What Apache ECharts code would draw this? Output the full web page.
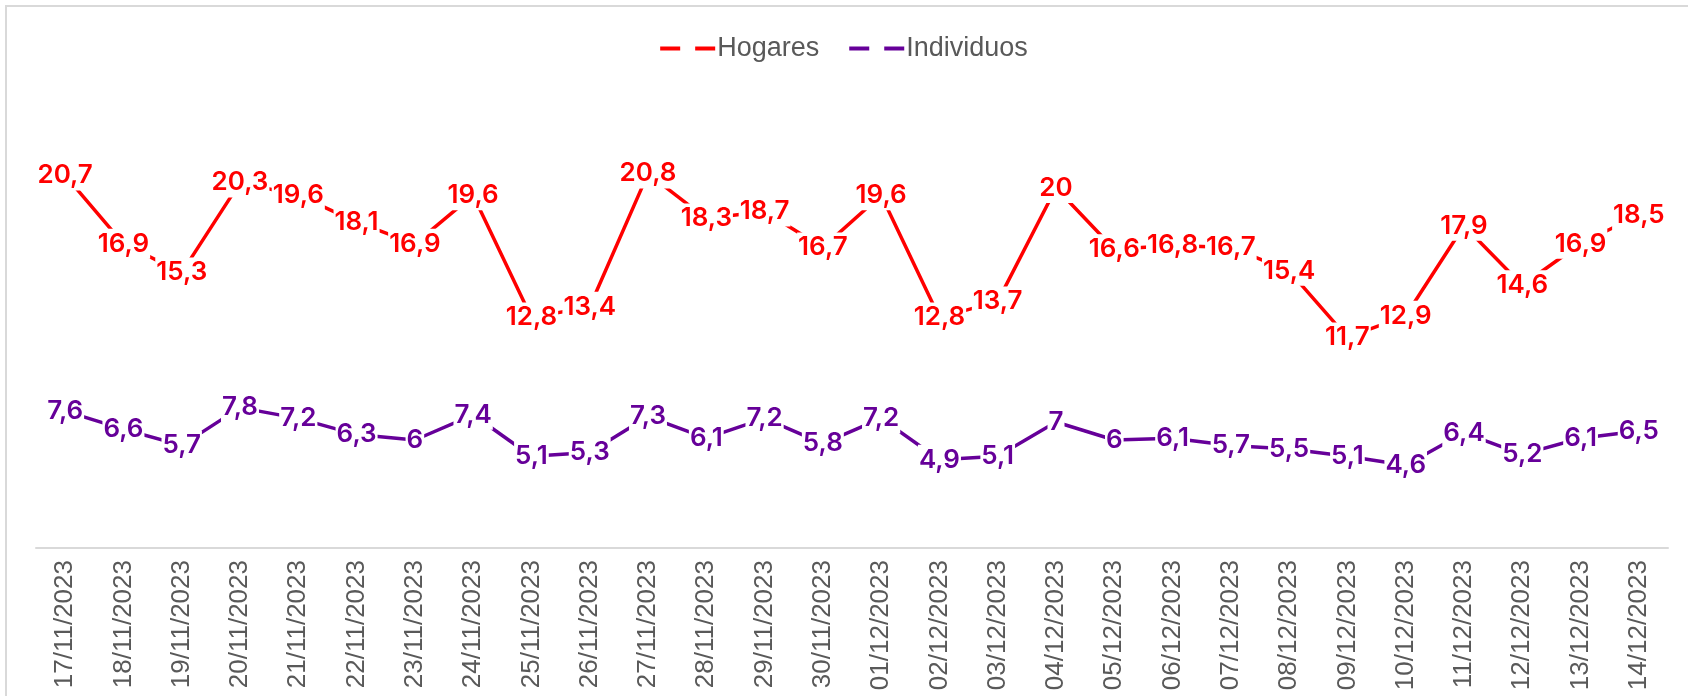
<!DOCTYPE html>
<html>
<head>
<meta charset="utf-8">
<script src="https://cdn.jsdelivr.net/npm/echarts@6/dist/echarts.min.js"></script>
<style>
  html, body { margin: 0; padding: 0; background: #fff; }
  #chart { width: 1688px; height: 696px; }
</style>
</head>
<body>
<div id="chart"></div>
<script>
// fechas del eje x
const fechas = [
  '17/11/2023', '18/11/2023', '19/11/2023', '20/11/2023', '21/11/2023', '22/11/2023', '23/11/2023',
  '24/11/2023', '25/11/2023', '26/11/2023', '27/11/2023', '28/11/2023', '29/11/2023', '30/11/2023',
  '01/12/2023', '02/12/2023', '03/12/2023', '04/12/2023', '05/12/2023', '06/12/2023', '07/12/2023',
  '08/12/2023', '09/12/2023', '10/12/2023', '11/12/2023', '12/12/2023', '13/12/2023', '14/12/2023'
];
const hogares = [20.7, 16.9, 15.3, 20.3, 19.6, 18.1, 16.9, 19.6, 12.8, 13.4, 20.8, 18.3, 18.7, 16.7,
  19.6, 12.8, 13.7, 20, 16.6, 16.8, 16.7, 15.4, 11.7, 12.9, 17.9, 14.6, 16.9, 18.5];
const individuos = [7.6, 6.6, 5.7, 7.8, 7.2, 6.3, 6, 7.4, 5.1, 5.3, 7.3, 6.1, 7.2, 5.8,
  7.2, 4.9, 5.1, 7, 6, 6.1, 5.7, 5.5, 5.1, 4.6, 6.4, 5.2, 6.1, 6.5];

const chart = echarts.init(document.getElementById('chart'));

// etiqueta centrada en el punto, fondo blanco tapa la linea
function etiqueta(color) {
  return {
    show: true,
    position: 'inside',
    color: color,
    fontFamily: 'Inter',
    fontWeight: 600,
    fontSize: 26,
    backgroundColor: '#fff',
    padding: [2, 1],
    formatter: p => String(p.value).replace('.', ',')
  };
}

const dashIcon = 'path://M0,0h20v4h-20z M35,0h20v4h-20z';

chart.setOption({
  animation: false,
  graphic: [{
    type: 'rect',
    shape: { x: 6, y: 6, width: 1720, height: 720 },
    style: { fill: 'none', stroke: '#d9d9d9', lineWidth: 2 },
    silent: true
  }],
  legend: {
    top: 30,
    left: 'center',
    itemWidth: 55,
    itemHeight: 4,
    itemGap: 30,
    textStyle: { fontFamily: 'Liberation Sans', fontSize: 27, color: '#595959', padding: [0, 0, 0, -3] },
    data: [
      { name: 'Hogares', icon: dashIcon, itemStyle: { color: '#ff0000' } },
      { name: 'Individuos', icon: dashIcon, itemStyle: { color: '#660099' } }
    ]
  },
  grid: { left: 36, right: 20, top: 98, bottom: 148 },
  xAxis: {
    type: 'category',
    data: fechas,
    boundaryGap: true,
    axisLine: { lineStyle: { color: '#d9d9d9', width: 2 } },
    axisTick: { length: 7, lineStyle: { color: '#d9d9d9', width: 2 } },
    axisLabel: {
      rotate: 90,
      interval: 0,
      margin: 12,
      fontFamily: 'Liberation Sans',
      fontSize: 26,
      color: '#595959'
    }
  },
  yAxis: {
    type: 'value',
    min: 0,
    max: 25,
    show: false,
    splitLine: { show: false }
  },
  series: [
    {
      name: 'Hogares',
      type: 'line',
      data: hogares,
      symbol: 'circle',
      symbolSize: 0,
      showSymbol: true,
      z: 2,
      lineStyle: { color: '#ff0000', width: 3.5 },
      itemStyle: { color: '#ff0000' },
      label: etiqueta('#ff0000')
    },
    {
      name: 'Individuos',
      type: 'line',
      data: individuos,
      symbol: 'circle',
      symbolSize: 0,
      showSymbol: true,
      z: 2,
      lineStyle: { color: '#660099', width: 3.5 },
      itemStyle: { color: '#660099' },
      label: etiqueta('#660099')
    }
  ]
});
</script>
</body>
</html>
